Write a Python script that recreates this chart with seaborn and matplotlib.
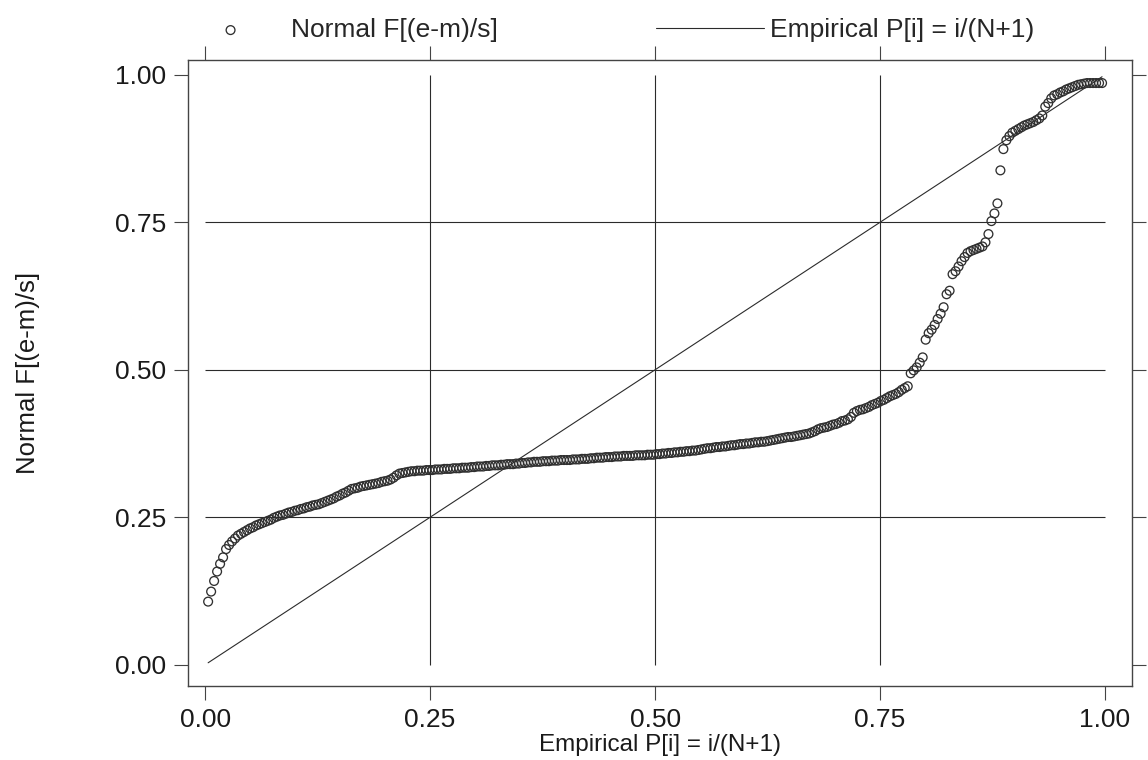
import numpy as np
import pandas as pd
import seaborn as sns
import matplotlib
import matplotlib.pyplot as plt

matplotlib.use("Agg")

# Normal F[(e-m)/s] for the sorted residuals (N = 300)
normal_f = [
    0.107, 0.124, 0.142, 0.158, 0.171, 0.182, 0.196, 0.203, 0.209, 0.214,
    0.219, 0.222, 0.225, 0.228, 0.231, 0.233, 0.236, 0.238, 0.240, 0.242,
    0.244, 0.246, 0.249, 0.251, 0.253, 0.254, 0.256, 0.258, 0.259, 0.261,
    0.262, 0.264, 0.265, 0.267, 0.268, 0.270, 0.271, 0.272, 0.274, 0.276,
    0.278, 0.280, 0.282, 0.285, 0.287, 0.290, 0.292, 0.295, 0.298, 0.299,
    0.300, 0.302, 0.303, 0.304, 0.305, 0.306, 0.307, 0.308, 0.310, 0.311,
    0.312, 0.314, 0.317, 0.321, 0.324, 0.325, 0.326, 0.327, 0.328, 0.328,
    0.329, 0.329, 0.329, 0.330, 0.330, 0.330, 0.331, 0.331, 0.331, 0.332,
    0.332, 0.332, 0.333, 0.333, 0.333, 0.334, 0.334, 0.334, 0.335, 0.335,
    0.336, 0.336, 0.336, 0.337, 0.337, 0.338, 0.338, 0.338, 0.339, 0.339,
    0.340, 0.340, 0.340, 0.341, 0.341, 0.342, 0.342, 0.343, 0.343, 0.344,
    0.344, 0.344, 0.345, 0.345, 0.345, 0.346, 0.346, 0.346, 0.347, 0.347,
    0.347, 0.347, 0.348, 0.348, 0.348, 0.349, 0.349, 0.349, 0.350, 0.350,
    0.351, 0.351, 0.351, 0.352, 0.352, 0.352, 0.353, 0.353, 0.353, 0.354,
    0.354, 0.354, 0.354, 0.355, 0.355, 0.355, 0.355, 0.356, 0.356, 0.356,
    0.357, 0.357, 0.358, 0.358, 0.359, 0.359, 0.360, 0.360, 0.361, 0.361,
    0.362, 0.362, 0.363, 0.363, 0.364, 0.365, 0.366, 0.367, 0.367, 0.368,
    0.369, 0.369, 0.370, 0.370, 0.371, 0.372, 0.372, 0.373, 0.374, 0.374,
    0.375, 0.375, 0.376, 0.377, 0.377, 0.378, 0.378, 0.379, 0.380, 0.381,
    0.382, 0.383, 0.384, 0.385, 0.386, 0.386, 0.387, 0.388, 0.389, 0.390,
    0.391, 0.392, 0.394, 0.396, 0.399, 0.401, 0.402, 0.403, 0.405, 0.407,
    0.408, 0.410, 0.413, 0.414, 0.416, 0.420, 0.427, 0.430, 0.432, 0.433,
    0.435, 0.437, 0.440, 0.442, 0.444, 0.447, 0.449, 0.452, 0.455, 0.457,
    0.459, 0.462, 0.466, 0.469, 0.472, 0.494, 0.499, 0.504, 0.512, 0.521,
    0.551, 0.562, 0.568, 0.576, 0.586, 0.595, 0.606, 0.628, 0.634, 0.662,
    0.667, 0.675, 0.684, 0.691, 0.698, 0.701, 0.703, 0.705, 0.707, 0.709,
    0.716, 0.730, 0.752, 0.765, 0.782, 0.838, 0.874, 0.889, 0.896, 0.902,
    0.905, 0.908, 0.911, 0.914, 0.916, 0.918, 0.920, 0.923, 0.926, 0.931,
    0.946, 0.952, 0.960, 0.965, 0.967, 0.970, 0.972, 0.975, 0.977, 0.979,
    0.981, 0.983, 0.984, 0.985, 0.986, 0.986, 0.986, 0.986, 0.986, 0.986,
]
tick_vals = [0.00, 0.25, 0.50, 0.75, 1.00]
tick_labels = ["0.00", "0.25", "0.50", "0.75", "1.00"]
grid_vals = [0.25, 0.50, 0.75]
x_label = "Empirical P[i] = i/(N+1)"
y_label = "Normal F[(e-m)/s]"

# P[i] = i/(N+1) is how the x axis is defined
n = len(normal_f)
df = pd.DataFrame({"empirical": np.arange(1, n + 1) / (n + 1), "normal": normal_f})

sns.set_theme(style="ticks")
plt.rcParams["font.family"] = ["Liberation Sans", "DejaVu Sans"]

ink = "#2b2b2b"
txt = "#1a1a1a"
fig = plt.figure(figsize=(11.48, 7.6), dpi=100)
ax = fig.add_axes([0.1638, 0.0974, 0.8223, 0.8236])

# reference grid only inside the [0, 1] box
ax.hlines(grid_vals, 0, 1, color=ink, linewidth=0.8, zorder=1)
ax.vlines(grid_vals, 0, 1, color=ink, linewidth=0.8, zorder=1)

sns.scatterplot(
    data=df, x="empirical", y="normal", ax=ax,
    marker="o", s=40, facecolors="none", edgecolor="#303030",
    linewidth=0.95, label=y_label, zorder=3,
)
sns.lineplot(
    data=df, x="empirical", y="empirical", ax=ax,
    color=ink, linewidth=0.8, label=x_label, zorder=2,
)
for coll in ax.collections[2:]:
    coll.set_facecolor("none")

ax.set_xlim(-0.019, 1.03)
ax.set_ylim(-0.036, 1.025)
ax.set_xticks(tick_vals, tick_labels)
ax.set_yticks(tick_vals, tick_labels)
ax.tick_params(direction="out", length=10, width=0.8, color="#444",
               labelcolor=txt, labelsize=19, pad=6,
               top=True, right=True)

for sp in ax.spines.values():
    sp.set_color("#444")
    sp.set_linewidth(1.0)

ax.set_xlabel(x_label, fontsize=17.5, color=txt, labelpad=1)
ax.set_ylabel(y_label, fontsize=18.5, color=txt, labelpad=54)

handles, labels = ax.get_legend_handles_labels()
ax.legend(
    handles, labels, loc="center", bbox_to_anchor=(0.5274, 0.9605),
    bbox_transform=fig.transFigure, ncol=2, frameon=False, fontsize=19,
    handlelength=4.1, handletextpad=0.23, columnspacing=6.0, borderpad=0,
)

fig.savefig("out.png", dpi=100)
